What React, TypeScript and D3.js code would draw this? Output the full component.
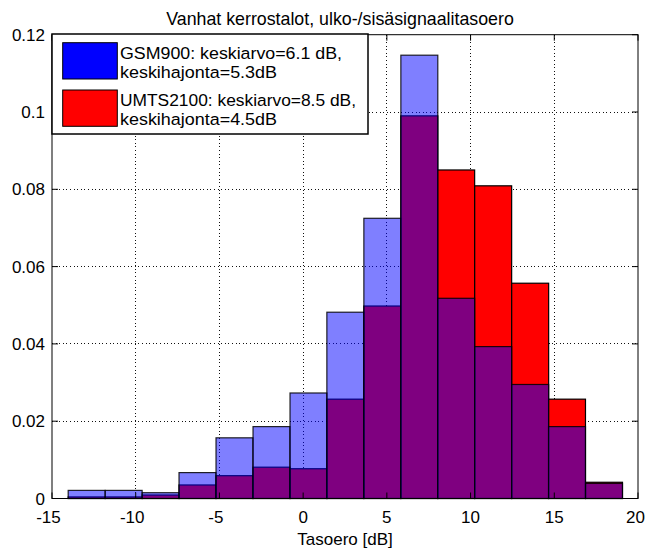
import React from "react";
import * as d3 from "d3";

// Histogram bin centres (dB) and normalised densities per bin
const binCenters = [-12.93, -10.72, -8.51, -6.31, -4.1, -1.89, 0.32, 2.52, 4.73, 6.94, 9.14, 11.35, 13.56, 15.76, 17.97];
const binWidth = 2.207;
const gsm900 = [0.0021, 0.0021, 0.0015, 0.0067, 0.0157, 0.0186, 0.0273, 0.0482, 0.0725, 0.1147, 0.0518, 0.0393, 0.0295, 0.0186, 0.0039];
const umts2100 = [0.0004, 0.0004, 0.0009, 0.0035, 0.0059, 0.0081, 0.0077, 0.0257, 0.0498, 0.099, 0.085, 0.0809, 0.0557, 0.0257, 0.0042];

const xTicks = [-15, -10, -5, 0, 5, 10, 15, 20];
const yTicks = [0, 0.02, 0.04, 0.06, 0.08, 0.1, 0.12];
const yTickLabels = ["0", "0.02", "0.04", "0.06", "0.08", "0.1", "0.12"];

const title = "Vanhat kerrostalot, ulko-/sisäsignaalitasoero";
const xLabel = "Tasoero [dB]";
const legendLines = [
  ["GSM900: keskiarvo=6.1 dB,", "keskihajonta=5.3dB"],
  ["UMTS2100: keskiarvo=8.5 dB,", "keskihajonta=4.5dB"],
];
const legendLineLengths = [
  [222, 157],
  [236, 157],
];

const W = 645;
const H = 550;
const FONT = "'Liberation Sans', Arial, Helvetica, sans-serif";

export default function App() {
  const left = 52, right = 638, top = 34.7, bottom = 498.5;
  const x = d3.scaleLinear().domain([-15, 20]).range([left, right]);
  const y = d3.scaleLinear().domain([0, 0.12]).range([bottom, top]);
  const tickLen = 6;

  const bar = (c: number, v: number) => ({
    x: x(c - binWidth / 2),
    w: x(c + binWidth / 2) - x(c - binWidth / 2),
    y: y(v),
    h: y(0) - y(v),
  });

  return (
    <svg
      width={W}
      height={H}
      style={{ position: "absolute", left: 0, top: 0, background: "#fff" }}
      fontFamily={FONT}
    >
      <rect x={0} y={0} width={W} height={H} fill="#fff" />
      <rect x={left} y={top} width={right - left} height={bottom - top} fill="#fff" />

      {/* dotted grid */}
      <g stroke="#111" strokeWidth={1} strokeDasharray="1 2.6" shapeRendering="crispEdges">
        {xTicks.slice(1, -1).map((t) => (
          <line key={"gx" + t} x1={x(t)} x2={x(t)} y1={top} y2={bottom} />
        ))}
        {yTicks.slice(1, -1).map((t) => (
          <line key={"gy" + t} x1={left} x2={right} y1={y(t)} y2={y(t)} />
        ))}
      </g>

      {/* UMTS2100 bars, opaque */}
      <g>
        {binCenters.map((c, i) => {
          const b = bar(c, umts2100[i]);
          return <rect key={"u" + i} x={b.x} y={b.y} width={b.w} height={b.h} fill="#ff0000" stroke="#000" strokeWidth={1.2} />;
        })}
      </g>
      {/* GSM900 bars, half transparent */}
      <g>
        {binCenters.map((c, i) => {
          const b = bar(c, gsm900[i]);
          return (
            <rect
              key={"g" + i}
              x={b.x}
              y={b.y}
              width={b.w}
              height={b.h}
              fill="#0000ff"
              fillOpacity={0.5}
              stroke="#000"
              strokeOpacity={0.85}
              strokeWidth={1.2}
            />
          );
        })}
      </g>

      {/* axes box and ticks */}
      <rect x={left} y={top} width={right - left} height={bottom - top} fill="none" stroke="#000" strokeWidth={1} />
      <g stroke="#000" strokeWidth={1}>
        {xTicks.map((t) => (
          <g key={"tx" + t}>
            <line x1={x(t)} x2={x(t)} y1={bottom} y2={bottom - tickLen} />
            <line x1={x(t)} x2={x(t)} y1={top} y2={top + tickLen} />
          </g>
        ))}
        {yTicks.map((t) => (
          <g key={"ty" + t}>
            <line x1={left} x2={left + tickLen} y1={y(t)} y2={y(t)} />
            <line x1={right} x2={right - tickLen} y1={y(t)} y2={y(t)} />
          </g>
        ))}
      </g>

      {/* tick labels */}
      <g fontSize={17} fill="#000">
        {xTicks.map((t, i) => (
          <text
            key={"lx" + t}
            x={x(t)}
            y={523}
            dx={t < 0 ? -3.5 : i === xTicks.length - 1 ? -2.5 : 0}
            textAnchor="middle"
          >
            {String(t)}
          </text>
        ))}
        {yTicks.map((t, i) => (
          <text key={"ly" + t} x={45} y={y(t) + 6} textAnchor="end">
            {yTickLabels[i]}
          </text>
        ))}
      </g>

      <text x={(left + right) / 2} y={545} textAnchor="middle" fontSize={17}>
        {xLabel}
      </text>
      <text x={340} y={25} textAnchor="middle" fontSize={17.8}>
        {title}
      </text>

      {/* legend */}
      <g>
        <rect x={left} y={34} width={316} height={100} fill="#fff" stroke="#000" strokeWidth={1.5} />
        <rect x={62.7} y={42.7} width={54.6} height={36.3} fill="#0000ff" stroke="#000" strokeWidth={1} />
        <rect x={62.7} y={90} width={54.6} height={36.3} fill="#ff0000" stroke="#000" strokeWidth={1} />
        <g fontSize={16.8}>
          {legendLines.map((pair, i) =>
            pair.map((line, j) => (
              <text
                key={"lg" + i + j}
                x={120}
                y={59 + i * 47 + j * 19}
                textLength={legendLineLengths[i][j]}
                lengthAdjust="spacingAndGlyphs"
              >
                {line}
              </text>
            ))
          )}
        </g>
      </g>
    </svg>
  );
}
